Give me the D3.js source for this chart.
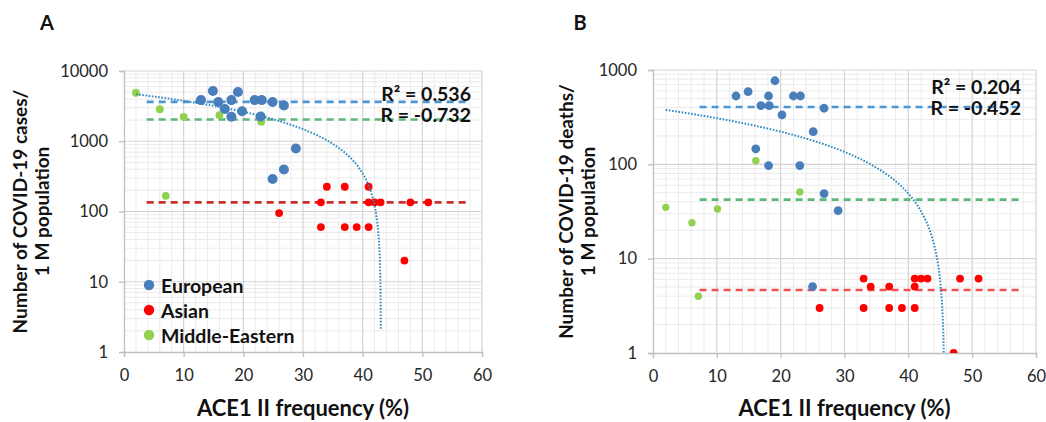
<!DOCTYPE html>
<html><head><meta charset="utf-8">
<script src="https://cdn.jsdelivr.net/npm/d3@7"></script>
<style>
html,body{margin:0;padding:0;background:#fff;}
svg{display:block;font-family:Lato,"Open Sans",sans-serif;}
</style></head>
<body>
<svg id="chart" width="1046" height="422"></svg>
<script>
// ---------- data ----------
const xTicks = [0, 10, 20, 30, 40, 50, 60];
const yTicksA = [1, 10, 100, 1000, 10000];
const yTicksB = [1, 10, 100, 1000];
const seriesNames = ["European", "Asian", "Middle-Eastern"];

// Panel A: cases per 1 M population
const europeanA = [[14.9,5200],[12.9,3850],[15.8,3630],[16.9,2870],[18.0,3850],[19.1,5030],[18.0,2230],[19.8,2680],[21.9,3850],[23.1,3850],[22.9,2250],[24.9,3630],[26.8,3240],[28.8,790],[26.8,395],[24.9,290]];
const asianA = [[26,95],[33,135],[34,225],[37,225],[41,225],[41,135],[42,135],[43,135],[48,135],[51,135],[33,60],[37,60],[39,60],[41,60],[47,20]];
const middleEastA = [[2,4900],[6,2860],[10,2230],[16,2350],[23,1900],[7,167]];
const meansA = [3630, 135, 2040];          // European, Asian, Middle-Eastern
const meanSpanA = [3.8, 58];
const trendA = [4900, -113.8];             // linear trend: intercept, slope
const trendSpanA = [2, 43.04];
const statsA = ["R² = 0.536", "R = -0.732"];

// Panel B: deaths per 1 M population
const europeanB = [[19.1,769],[14.9,589],[13,530],[18.1,530],[22,530],[23.1,530],[16.9,419],[18.2,419],[26.8,393],[20.2,334],[25.1,222],[16.1,146],[18.1,97],[23,97],[26.8,49],[29,32.3],[25,5.06]];
const asianB = [[33,6.15],[34.1,5.06],[37,5.06],[41,6.15],[42,6.15],[43,6.15],[41,5.06],[48.1,6.15],[51,6.15],[33,3],[37,3],[39,3],[41,3],[47.1,1.0],[26.1,3.0]];
const middleEastB = [[16.1,109],[23,51],[2,35],[10.1,33.7],[6.1,24],[7.1,4.0]];
const meansB = [406, 4.66, 42.3];
const meanSpanB = [7.3, 57.8];
const trendB = [395, -8.65];
const trendSpanB = [2, 45.55];
const statsB = ["R² = 0.204", "R = -0.452"];

// ---------- drawing ----------
const svg = d3.select("#chart");
const colors = {eu:"#4a7ebb", as:"#ff0000", me:"#92d050"};

function panel(cfg){
  const g = svg.append("g");
  const x = d3.scaleLinear().domain([0,60]).range([cfg.left, cfg.right]);
  const y = d3.scaleLog().domain([1, cfg.yMax]).range([cfg.bottom, cfg.top]);
  const clipId = "clip" + cfg.label;
  svg.append("clipPath").attr("id", clipId).append("rect")
    .attr("x", cfg.left).attr("y", cfg.top - 8).attr("width", cfg.right - cfg.left + 8).attr("height", cfg.bottom - cfg.top + 8);

  // minor grid
  const minorX = d3.range(0, 61, 2).filter(v => v % 10 !== 0);
  g.append("g").selectAll("line").data(minorX).join("line")
    .attr("x1", d => x(d)).attr("x2", d => x(d)).attr("y1", cfg.top).attr("y2", cfg.bottom)
    .attr("stroke", "#ebebeb").attr("stroke-width", 1);
  const minorY = y.ticks().filter(v => !cfg.yTicks.includes(v));
  g.append("g").selectAll("line").data(minorY).join("line")
    .attr("x1", cfg.left).attr("x2", cfg.right).attr("y1", d => y(d)).attr("y2", d => y(d))
    .attr("stroke", "#ebebeb").attr("stroke-width", 1);
  // major grid
  g.append("g").selectAll("line").data(xTicks.slice(1)).join("line")
    .attr("x1", d => x(d)).attr("x2", d => x(d)).attr("y1", cfg.top).attr("y2", cfg.bottom)
    .attr("stroke", "#d4d4d4").attr("stroke-width", 1.2);
  g.append("g").selectAll("line").data(cfg.yTicks.slice(1)).join("line")
    .attr("x1", cfg.left).attr("x2", cfg.right).attr("y1", d => y(d)).attr("y2", d => y(d))
    .attr("stroke", "#d4d4d4").attr("stroke-width", 1.2);

  // axes
  const xAxis = g.append("g").attr("transform", `translate(0,${cfg.bottom})`)
    .call(d3.axisBottom(x).tickValues(xTicks).tickSize(5).tickPadding(12).tickFormat(d3.format("d")));
  const yAxis = g.append("g").attr("transform", `translate(${cfg.left},0)`)
    .call(d3.axisLeft(y).tickValues(cfg.yTicks).tickSize(5).tickPadding(11).tickFormat(d3.format("d")));
  [xAxis, yAxis].forEach(a => {
    a.select(".domain").attr("stroke", "#bfbfbf").attr("stroke-width", 1.3);
    a.selectAll(".tick line").attr("stroke", "#bfbfbf").attr("stroke-width", 1.3);
    a.selectAll(".tick text").attr("font-family", "Lato, sans-serif").attr("font-size", 16.5).attr("fill", "#262626");
  });

  const pg = g.append("g").attr("clip-path", `url(#${clipId})`);
  // mean dashed lines
  const meanColors = cfg.meanColors;
  pg.append("g").selectAll("line").data(cfg.means).join("line")
    .attr("x1", x(cfg.meanSpan[0])).attr("x2", x(cfg.meanSpan[1]))
    .attr("y1", d => y(d)).attr("y2", d => y(d))
    .attr("stroke", (d,i) => meanColors[i]).attr("stroke-width", 2.6)
    .attr("stroke-dasharray", "7,5");

  // points
  const sets = [[cfg.me, colors.me, cfg.rMe],[cfg.as, colors.as, cfg.rAs],[cfg.eu, colors.eu, cfg.rEu]];
  sets.forEach(([data, col, r]) => {
    pg.append("g").selectAll("circle").data(data).join("circle")
      .attr("cx", d => x(d[0])).attr("cy", d => y(d[1])).attr("r", r).attr("fill", col);
  });

  // linear trendline
  const tx = d3.range(cfg.trendSpan[0], cfg.trendSpan[1], 0.05).concat([cfg.trendSpan[1]]);
  const tpts = tx.map(v => [v, cfg.trend[0] + cfg.trend[1] * v]).filter(p => p[1] > 0);
  pg.append("path").datum(tpts)
    .attr("d", d3.line().x(d => x(d[0])).y(d => y(d[1])))
    .attr("fill", "none").attr("stroke", "#2f8ac4").attr("stroke-width", 2)
    .attr("stroke-dasharray", "1.6,1.6");

  // stats text
  g.append("g").selectAll("text").data(cfg.stats).join("text")
    .attr("x", cfg.statsX).attr("y", (d,i) => cfg.statsY + i * 21)
    .attr("text-anchor", "end").attr("dominant-baseline", "central")
    .attr("font-family", "Lato, sans-serif").attr("font-weight", "bold").attr("font-size", 19.5)
    .attr("fill", "#111").text(d => d);

  // panel label
  g.append("text").attr("x", cfg.labelX).attr("y", 22).attr("dominant-baseline", "central")
    .attr("text-anchor", "middle")
    .attr("font-family", "Lato, sans-serif").attr("font-weight", "bold").attr("font-size", 20)
    .attr("fill", "#111").text(cfg.label);

  // x title
  g.append("text").attr("x", (cfg.left + cfg.right) / 2 + cfg.xTitleDx).attr("y", 407)
    .attr("text-anchor", "middle").attr("dominant-baseline", "central")
    .attr("font-family", "Lato, sans-serif").attr("font-weight", "bold").attr("font-size", 22)
    .attr("fill", "#111").text("ACE1 II frequency (%)");

  // y title
  const yt = g.append("text").attr("transform", `translate(${cfg.yTitleX},${(cfg.top + cfg.bottom) / 2}) rotate(-90)`)
    .attr("text-anchor", "middle")
    .attr("font-family", "Lato, sans-serif").attr("font-weight", "bold").attr("font-size", 19)
    .attr("fill", "#111");
  cfg.yTitle.forEach((t, i) => yt.append("tspan").attr("x", 0).attr("dy", i === 0 ? 0 : 22).text(t));

  return {x, y, g};
}

const A = panel({label:"A", labelX:47, left:124, right:482, top:71, bottom:352, yMax:10000, yTicks:yTicksA,
  eu:europeanA, as:asianA, me:middleEastA, rEu:5, rAs:3.9, rMe:3.9,
  means:meansA, meanSpan:meanSpanA, meanColors:["#4c96d7","#c9302c","#5cb87a"],
  trend:trendA, trendSpan:trendSpanA, stats:statsA, statsX:471, statsY:93, xTitleDx:0,
  yTitleX:27, yTitle:["Number of COVID-19 cases/", "1 M population"]});

const B = panel({label:"B", labelX:580, left:653, right:1036, top:70, bottom:353, yMax:1000, yTicks:yTicksB,
  eu:europeanB, as:asianB, me:middleEastB, rEu:4.4, rAs:3.9, rMe:3.7,
  means:meansB, meanSpan:meanSpanB, meanColors:["#4c96d7","#f05050","#5cb87a"],
  trend:trendB, trendSpan:trendSpanB, stats:statsB, statsX:1021, statsY:86, xTitleDx:0,
  yTitleX:573, yTitle:["Number of COVID-19 deaths/", "1 M population"]});

// legend (panel A)
const legendColors = [colors.eu, colors.as, colors.me];
const lg = svg.append("g");
const legendY = d3.scalePoint().domain(seriesNames).range([285, 335]);
lg.selectAll("circle").data(seriesNames).join("circle")
  .attr("cx", 149).attr("cy", d => legendY(d)).attr("r", 5.2).attr("fill", (d,i) => legendColors[i]);
lg.selectAll("text").data(seriesNames).join("text")
  .attr("x", 161).attr("y", d => legendY(d)).attr("dominant-baseline", "central")
  .attr("font-family", "Lato, sans-serif").attr("font-weight", "bold").attr("font-size", 19.5)
  .attr("fill", "#111").text(d => d);
</script>
</body></html>
